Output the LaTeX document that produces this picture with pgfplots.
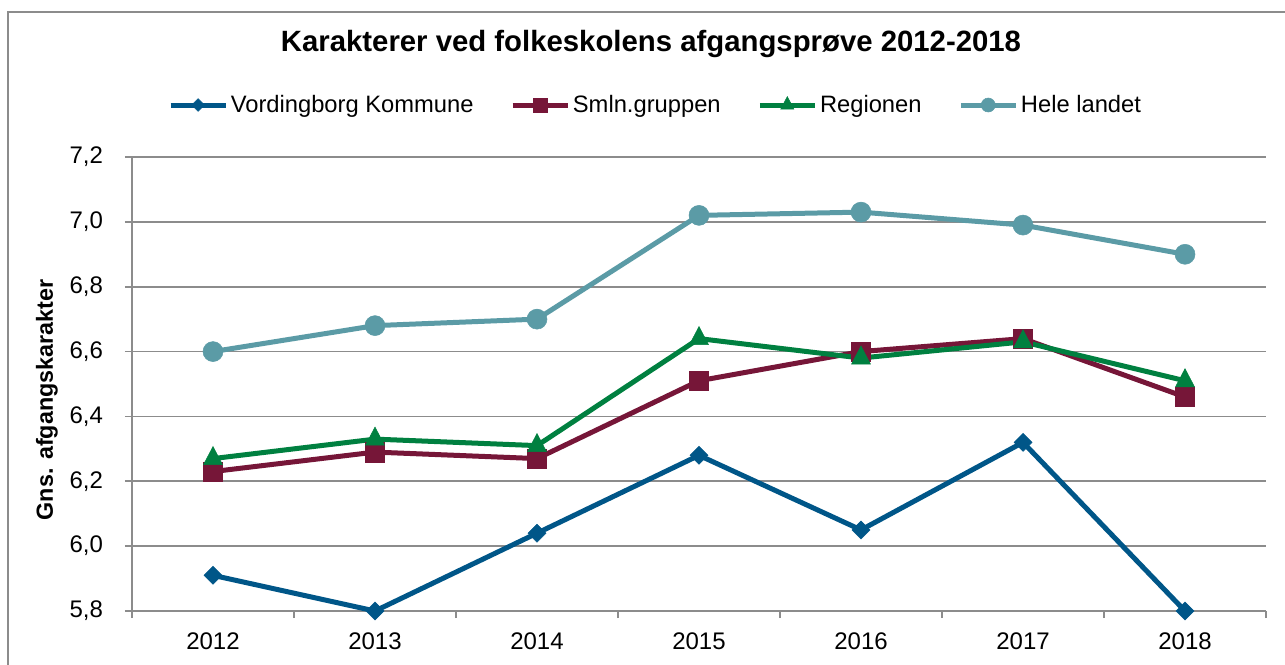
\documentclass[border=0pt]{standalone}
\usepackage{fontspec}
\setmainfont{Liberation Sans}
\usepackage{pgfplots}
\pgfplotsset{compat=1.18}
\definecolor{vk}{RGB}{0,86,136}
\definecolor{sg}{RGB}{118,22,56}
\definecolor{rg}{RGB}{0,128,64}
\definecolor{hl}{RGB}{91,155,166}
\definecolor{gridgray}{RGB}{140,140,140}
\begin{document}
\begin{tikzpicture}[x=0.75pt,y=0.75pt]
\useasboundingbox (0,0) rectangle (1285,664);
\draw[color=gridgray, line width=1.5pt] (8,-5) -- (8,652) -- (1290,652);
\begin{axis}[
  at={(99pt,39.75pt)}, anchor=south west, scale only axis,
  width=850.5pt, height=340.5pt,
  xmin=-0.5, xmax=6.5, ymin=5.8, ymax=7.2,
  clip=false,
  axis lines*=left, axis line style={draw=gridgray, line width=1.2pt},
  ymajorgrids, grid style={draw=gridgray, line width=1.2pt},
  tick align=outside, major tick length=5.25pt,
  ytick={5.8,6,6.2,6.4,6.6,6.8,7,7.2},
  ytick style={draw=gridgray, line width=1.2pt},
  yticklabel style={/pgf/number format/fixed, /pgf/number format/fixed zerofill, /pgf/number format/precision=1, /pgf/number format/use comma, /pgf/number format/assume math mode=true},
  yticklabel shift=13pt,
  xtick={0,1,2,3,4,5,6}, xticklabels={2012,2013,2014,2015,2016,2017,2018},
  xticklabel shift=7.5pt,
  xtick style={draw=none},
  extra x ticks={-0.5,0.5,1.5,2.5,3.5,4.5,5.5,6.5}, extra x tick labels={},
  extra x tick style={xtick style={draw=gridgray, line width=1.2pt}},
  ticklabel style={font=\fontsize{18pt}{21pt}\selectfont},
  title={Karakterer ved folkeskolens afgangsprøve 2012-2018},
  title style={font=\bfseries\fontsize{22pt}{26pt}\selectfont, at={(axis description cs:0.4577,1.2137)}, anchor=base},
  ylabel={Gns. afgangskarakter},
  ylabel style={font=\bfseries\fontsize{17.5pt}{20pt}\selectfont, at={(axis description cs:-0.0697,0.465)}, anchor=base},
  legend style={at={(0.462,1.1145)}, anchor=center, draw=none, fill=none,
    font=\fontsize{17.8pt}{21pt}\selectfont,
    /tikz/every even column/.append style={column sep=25.5pt}},
  legend columns=-1, legend cell align=left,
  legend image code/.code={
    \draw[#1, mark=none] (0pt,0pt) -- (41.25pt,0pt);
    \draw[#1, mark size=0.7\pgfplotmarksize] plot coordinates {(20.6pt,0pt)};
  },
]
\addplot[color=vk, line width=3.75pt, mark=diamond*, mark size=6.75pt,
  mark options={solid, fill=vk, draw=vk, line width=0.4pt, xscale=1.333}]
  coordinates {(0,5.91) (1,5.80) (2,6.04) (3,6.28) (4,6.05) (5,6.32) (6,5.80)};
\addlegendentry{Vordingborg Kommune}
\addplot[color=sg, line width=3.75pt, mark=square*, mark size=7.3pt,
  mark options={solid, fill=sg, draw=sg, line width=0.4pt}]
  coordinates {(0,6.23) (1,6.29) (2,6.27) (3,6.51) (4,6.60) (5,6.64) (6,6.46)};
\addlegendentry{Smln.gruppen}
\addplot[color=rg, line width=3.75pt, mark=triangle*, mark size=8.2pt,
  mark options={solid, fill=rg, draw=rg, line width=0.4pt, yscale=1.1}]
  coordinates {(0,6.27) (1,6.33) (2,6.31) (3,6.64) (4,6.58) (5,6.63) (6,6.51)};
\addlegendentry{Regionen}
\addplot[color=hl, line width=3.75pt, mark=*, mark size=7.5pt,
  mark options={solid, fill=hl, draw=hl, line width=0.4pt}]
  coordinates {(0,6.60) (1,6.68) (2,6.70) (3,7.02) (4,7.03) (5,6.99) (6,6.90)};
\addlegendentry{Hele landet}
\end{axis}
\end{tikzpicture}
\end{document}
